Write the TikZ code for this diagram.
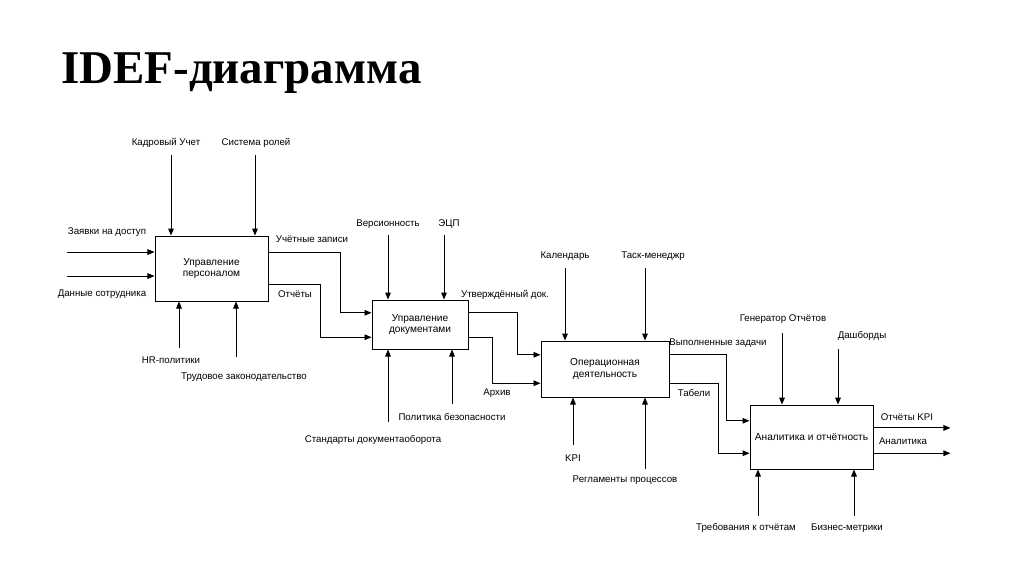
\documentclass[tikz,border=0pt]{standalone}
\usepackage{fontspec}
\setmainfont{Liberation Sans}
\newfontfamily\titlefont{Liberation Serif}
\usepackage{tikz}
\usetikzlibrary{arrows.meta,positioning,calc}

\begin{document}
\begin{tikzpicture}[
  x=0.025cm, y=-0.025cm,
  font=\fontsize{6.9}{8}\selectfont,
  proc/.style={draw, line width=0.65pt, align=center, inner sep=2pt,
               font=\fontsize{7.2}{8}\selectfont},
  arrow/.style={-{Triangle[length=5pt,width=4pt]}, line width=0.7pt},
  lbl/.style={inner sep=1pt}
]
\useasboundingbox (0,0) rectangle (1024,574);
\node[anchor=base west, inner sep=0pt, font=\titlefont\bfseries\fontsize{33.4}{36}\selectfont] (title) at (61,83) {IDEF-диаграмма};
% function boxes
\node[proc, minimum width=2.825cm, minimum height=1.625cm] (pers) at (211.5,268.5) {Управление\\персоналом};
\node[proc, minimum width=2.4cm, minimum height=1.225cm] (docs) at (420,324.5) {Управление\\документами};
\node[proc, minimum width=3.2cm, minimum height=1.4cm] (oper) at (605,369) {Операционная\\деятельность};
\node[proc, minimum width=3.075cm, minimum height=1.6cm] (anlt) at (811.5,437) {Аналитика и отчётность};
% labels
\node[lbl] (kadr) at (166,143) {Кадровый Учет};
\node[lbl] (role) at (256,143) {Система ролей};
\node[lbl] (zayv) at (107,232) {Заявки на доступ};
\node[lbl] (dann) at (102,294) {Данные сотрудника};
\node[lbl] (hrpol) at (171,360) {HR-политики};
\node[lbl] (trud) at (244,377) {Трудовое законодательство};
\node[lbl] (uchz) at (312,239) {Учётные записи};
\node[lbl] (otch) at (295,294) {Отчёты};
\node[lbl] (vers) at (388,224) {Версионность};
\node[lbl] (ecp) at (449,224) {ЭЦП};
\node[lbl] (stnd) at (373,440) {Стандарты документаоборота};
\node[lbl] (bezp) at (452,417) {Политика безопасности};
\node[lbl] (utvd) at (505,295) {Утверждённый док.};
\node[lbl] (arch) at (497,393) {Архив};
\node[lbl] (cal) at (565,256) {Календарь};
\node[lbl] (task) at (653,256) {Таск-менеджр};
\node[lbl] (kpi) at (573,458) {KPI};
\node[lbl] (regl) at (625,480) {Регламенты процессов};
\node[lbl] (vypz) at (718,343) {Выполненные задачи};
\node[lbl] (tabl) at (694,393) {Табели};
\node[lbl] (genr) at (783,319) {Генератор Отчётов};
\node[lbl] (dash) at (862,336) {Дашборды};
\node[lbl] (treb) at (746,528) {Требования к отчётам};
\node[lbl] (bizm) at (847,528) {Бизнес-метрики};
\node[lbl] (okpi) at (907,417) {Отчёты KPI};
\node[lbl] (anlz) at (903,441) {Аналитика};
% free arrow ends
\coordinate (in1) at (67,252);
\coordinate (in2) at (67,276);
\coordinate (c1) at (171,155);
\coordinate (c2) at (255,155);
\coordinate (m1) at (179,348);
\coordinate (m2) at (236,357);
\coordinate (c3) at (388,235);
\coordinate (c4) at (444,235);
\coordinate (m3) at (388,422);
\coordinate (m4) at (452,404);
\coordinate (c5) at (565,268);
\coordinate (c6) at (645,268);
\coordinate (m5) at (573,445);
\coordinate (m6) at (645,469);
\coordinate (c7) at (782,333);
\coordinate (c8) at (838,349);
\coordinate (m7) at (758,516);
\coordinate (m8) at (854,516);
% inputs, controls, mechanisms
\draw[arrow] (in1) -- (in1 -| pers.west);
\draw[arrow] (in2) -- (in2 -| pers.west);
\draw[arrow] (c1) -- (c1 |- pers.north);
\draw[arrow] (c2) -- (c2 |- pers.north);
\draw[arrow] (m1) -- (m1 |- pers.south);
\draw[arrow] (m2) -- (m2 |- pers.south);
\draw[arrow] (c3) -- (c3 |- docs.north);
\draw[arrow] (c4) -- (c4 |- docs.north);
\draw[arrow] (m3) -- (m3 |- docs.south);
\draw[arrow] (m4) -- (m4 |- docs.south);
\draw[arrow] (c5) -- (c5 |- oper.north);
\draw[arrow] (c6) -- (c6 |- oper.north);
\draw[arrow] (m5) -- (m5 |- oper.south);
\draw[arrow] (m6) -- (m6 |- oper.south);
\draw[arrow] (c7) -- (c7 |- anlt.north);
\draw[arrow] (c8) -- (c8 |- anlt.north);
\draw[arrow] (m7) -- (m7 |- anlt.south);
\draw[arrow] (m8) -- (m8 |- anlt.south);
% outputs
\draw[arrow] ($(pers.north east)!0.25!(pers.south east)$) -- ++(72,0) |- ($(docs.north west)!0.265!(docs.south west)$);
\draw[arrow] ($(pers.north east)!0.74!(pers.south east)$) -- ++(52,0) |- ($(docs.north west)!0.755!(docs.south west)$);
\draw[arrow] ($(docs.north east)!0.265!(docs.south east)$) -- ++(49,0) |- ($(oper.north west)!0.25!(oper.south west)$);
\draw[arrow] ($(docs.north east)!0.755!(docs.south east)$) -- ++(24,0) |- ($(oper.north west)!0.75!(oper.south west)$);
\draw[arrow] ($(oper.north east)!0.25!(oper.south east)$) -- ++(57,0) |- ($(anlt.north west)!0.25!(anlt.south west)$);
\draw[arrow] ($(oper.north east)!0.75!(oper.south east)$) -- ++(49,0) |- ($(anlt.north west)!0.75!(anlt.south west)$);
\draw[arrow] ($(anlt.north east)!0.36!(anlt.south east)$) -- ++(77,0);
\draw[arrow] ($(anlt.north east)!0.75!(anlt.south east)$) -- ++(77,0);
\end{tikzpicture}
\end{document}
